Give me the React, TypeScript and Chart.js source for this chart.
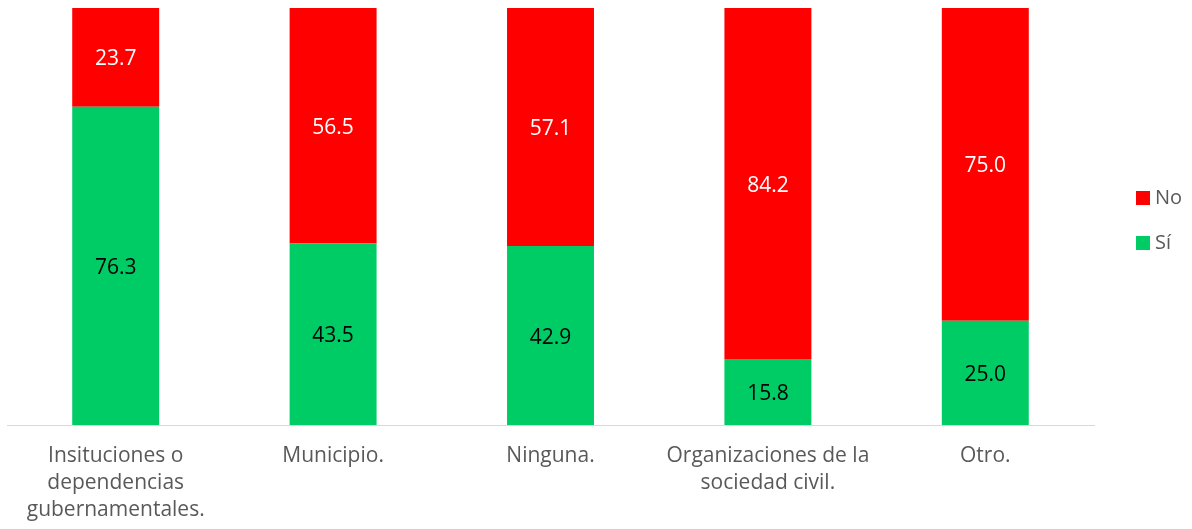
import React, { useEffect, useRef } from "react";
import { Chart, registerables } from "chart.js";

Chart.register(...registerables);

const categories: string[][] = [
  ["Insituciones o", "dependencias", "gubernamentales."],
  ["Municipio."],
  ["Ninguna."],
  ["Organizaciones de la", "sociedad civil."],
  ["Otro."],
];
const siValues = [76.3, 43.5, 42.9, 15.8, 25.0];
const noValues = [23.7, 56.5, 57.1, 84.2, 75.0];
const seriesNames = ["Sí", "No"];
const seriesColors = ["#00CC66", "#FF0000"];
const labelColors = ["#000000", "#FFFFFF"];

const FONT = "'Open Sans', 'Liberation Sans', sans-serif";
const CANVAS_H = 547;

const dataLabelPlugin = {
  id: "dataLabels",
  afterDatasetsDraw(chart: any) {
    const ctx = chart.ctx;
    ctx.save();
    ctx.font = `21px ${FONT}`;
    ctx.textAlign = "center";
    ctx.textBaseline = "middle";
    chart.data.datasets.forEach((ds: any, di: number) => {
      const meta = chart.getDatasetMeta(di);
      meta.data.forEach((bar: any, i: number) => {
        const v = ds.data[i];
        const p = bar.getProps(["x", "y", "base"], true);
        ctx.fillStyle = labelColors[di];
        ctx.fillText(v.toFixed(1), p.x, (p.y + p.base) / 2 + 2);
      });
    });
    ctx.restore();
  },
};

const legendPlugin = {
  id: "customLegend",
  afterDraw(chart: any) {
    const ctx = chart.ctx;
    ctx.save();
    ctx.font = `20px ${FONT}`;
    ctx.textAlign = "left";
    ctx.textBaseline = "middle";
    const items = [
      { name: seriesNames[1], color: seriesColors[1], y: 198 },
      { name: seriesNames[0], color: seriesColors[0], y: 243 },
    ];
    items.forEach((it) => {
      ctx.fillStyle = it.color;
      ctx.fillRect(1136, it.y - 7, 14, 14);
      ctx.fillStyle = "#595959";
      ctx.fillText(it.name, 1155, it.y);
    });
    ctx.restore();
  },
};

export default function App() {
  const ref = useRef<HTMLCanvasElement | null>(null);
  useEffect(() => {
    if (!ref.current) return;
    const chart = new Chart(ref.current, {
      type: "bar",
      data: {
        labels: categories,
        datasets: [
          {
            label: seriesNames[0],
            data: siValues,
            backgroundColor: seriesColors[0],
            categoryPercentage: 1,
            barPercentage: 0.4,
          },
          {
            label: seriesNames[1],
            data: noValues,
            backgroundColor: seriesColors[1],
            categoryPercentage: 1,
            barPercentage: 0.4,
          },
        ],
      },
      options: {
        animation: false,
        responsive: false,
        maintainAspectRatio: false,
        layout: { padding: { left: 7, right: 98, top: 8, bottom: 5 } },
        plugins: {
          legend: { display: false },
          tooltip: { enabled: false },
        },
        scales: {
          x: {
            stacked: true,
            grid: { display: false, drawTicks: false },
            border: { display: true, color: "#D9D9D9", width: 1 },
            ticks: {
              color: "#595959",
              font: { family: FONT, size: 21, lineHeight: 27 / 21 },
              padding: 18,
              maxRotation: 0,
              autoSkip: false,
            },
          },
          y: {
            stacked: true,
            display: false,
            min: 0,
            max: 100,
          },
        },
      },
      plugins: [dataLabelPlugin, legendPlugin],
    });
    return () => chart.destroy();
  }, []);
  return (
    <div style={{ position: "fixed", left: 0, top: 0, width: 1192, height: 529, overflow: "hidden", background: "#fff" }}>
      <canvas ref={ref} width={1192} height={CANVAS_H} style={{ width: 1192, height: CANVAS_H, display: "block" }} />
    </div>
  );
}
